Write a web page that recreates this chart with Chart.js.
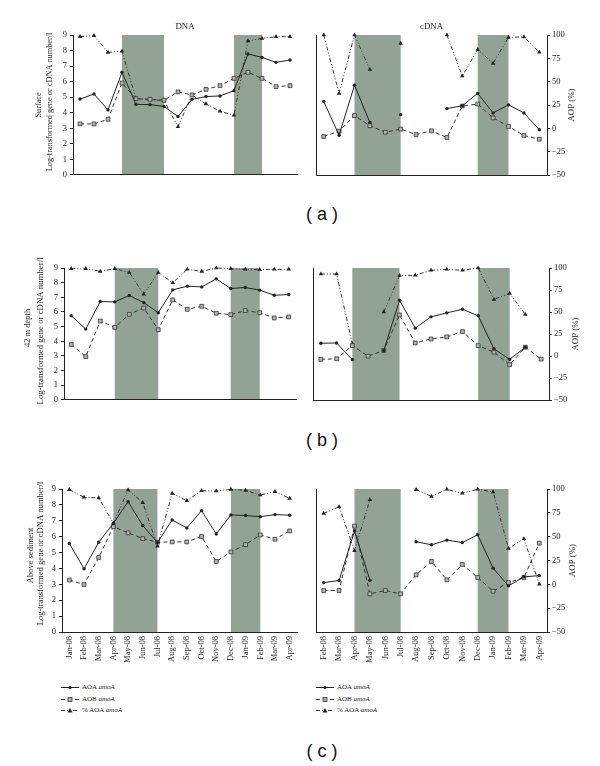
<!DOCTYPE html>
<html>
<head>
<meta charset="utf-8">
<script src="https://cdn.jsdelivr.net/npm/chart.js@4.4.1/dist/chart.umd.min.js"></script>
<style>
  html, body { margin:0; padding:0; background:#fff; }
  body { width:600px; height:766px; position:relative; overflow:hidden; font-family:"Liberation Serif","Times New Roman",serif; color:#222; }
  canvas { position:absolute; }
  .cap { position:absolute; width:100px; text-align:center; font-family:"Liberation Sans",Arial,sans-serif; font-size:18px; color:#111; white-space:pre; line-height:20px; }
  .leg { position:absolute; font-size:7px; line-height:11.5px; color:#222; }
  .leg .row { display:flex; align-items:center; height:11.5px; }
  .leg svg { margin-right:3px; }
</style>
</head>
<body>
<div class="cap" style="left:272px;top:204px">( a )</div>
<div class="cap" style="left:272px;top:430px">( b )</div>
<div class="cap" style="left:272px;top:741px">( c )</div>

<div class="leg" style="left:61px;top:682px">
  <div class="row"><svg width="18" height="9"><line x1="0" y1="4.5" x2="18" y2="4.5" stroke="#222" stroke-width="1"/><circle cx="9" cy="4.5" r="1.6" fill="#222"/></svg><span>AOA <i>amoA</i></span></div>
  <div class="row"><svg width="18" height="9"><line x1="0" y1="4.5" x2="18" y2="4.5" stroke="#333" stroke-width="1" stroke-dasharray="4,3"/><rect x="7" y="2.5" width="4" height="4" fill="#b0b0b0" stroke="#333" stroke-width="0.8"/></svg><span>AOB <i>amoA</i></span></div>
  <div class="row"><svg width="18" height="9"><line x1="0" y1="4.5" x2="18" y2="4.5" stroke="#333" stroke-width="1" stroke-dasharray="4,2,1,2,1,2"/><polygon points="9,2 11.5,6.5 6.5,6.5" fill="#222"/></svg><span>% AOA <i>amoA</i></span></div>
</div>
<div class="leg" style="left:316px;top:682px">
  <div class="row"><svg width="18" height="9"><line x1="0" y1="4.5" x2="18" y2="4.5" stroke="#222" stroke-width="1"/><circle cx="9" cy="4.5" r="1.6" fill="#222"/></svg><span>AOA <i>amoA</i></span></div>
  <div class="row"><svg width="18" height="9"><line x1="0" y1="4.5" x2="18" y2="4.5" stroke="#333" stroke-width="1" stroke-dasharray="4,3"/><rect x="7" y="2.5" width="4" height="4" fill="#b0b0b0" stroke="#333" stroke-width="0.8"/></svg><span>AOB <i>amoA</i></span></div>
  <div class="row"><svg width="18" height="9"><line x1="0" y1="4.5" x2="18" y2="4.5" stroke="#333" stroke-width="1" stroke-dasharray="4,2,1,2,1,2"/><polygon points="9,2 11.5,6.5 6.5,6.5" fill="#222"/></svg><span>% AOA <i>amoA</i></span></div>
</div>

<script>
// ---------- DATA ----------
const monthsDNA  = ['Jan-08','Feb-08','Mar-08','Apr-08','May-08','Jun-08','Jul-08','Aug-08','Sep-08','Oct-08','Nov-08','Dec-08','Jan-09','Feb-09','Mar-09','Apr-09'];
const monthsCDNA = ['Feb-08','Mar-08','Apr-08','May-08','Jun-08','Jul-08','Aug-08','Sep-08','Oct-08','Nov-08','Dec-08','Jan-09','Feb-09','Mar-09','Apr-09'];

const geneTicks = [0,1,2,3,4,5,6,7,8,9];
const aopTicks  = [-50,-25,0,25,50,75,100];

// (a) Surface
const surfDnaAOA  = [4.88, 5.20, 4.18, 6.60, 4.54, 4.52, 4.41, 3.75, 4.86, 5.04, 5.08, 5.42, 7.78, 7.56, 7.24, 7.39];
const surfDnaAOB  = [3.28, 3.28, 3.58, 5.91, 4.90, 4.86, 4.80, 5.34, 5.14, 5.50, 5.74, 6.21, 6.60, 6.21, 5.68, 5.74];
const surfDnaPct  = [98.2, 99.3, 81.4, 82.5, 31.8, 30.7, 29.6, 1.8, 35.7, 26.1, 18.2, 13.9, 93.6, 96.4, 98.2, 98.2];
const surfCdnaAOA = [4.73, 2.56, 5.77, 3.38, null, 3.88, null, null, 4.27, 4.45, 5.25, 3.99, 4.51, 3.99, 2.91];
const surfCdnaAOB = [2.47, 2.82, 3.82, 3.17, 2.75, 2.95, 2.60, 2.84, 2.41, 4.43, 4.56, 3.67, 3.12, 2.54, 2.30];
const surfCdnaPct = [100, 37.5, 100, 63, null, 91, null, null, 100, 56, 84.4, 69.6, 97.5, 98, 81.6];

// (b) 42 m depth
const d42DnaAOA  = [5.75, 4.83, 6.71, 6.69, 7.12, 6.64, 5.95, 7.51, 7.76, 7.71, 8.26, 7.60, 7.67, 7.49, 7.14, 7.19];
const d42DnaAOB  = [3.78, 2.95, 5.38, 4.95, 5.84, 6.27, 4.79, 6.82, 6.18, 6.39, 5.91, 5.82, 6.09, 5.95, 5.59, 5.66];
const d42DnaPct  = [99.2, 99.2, 96.2, 99.2, 95, 70.2, 95, 83.2, 98.5, 96.2, 100, 99.2, 98.5, 98.1, 98.5, 98.5];
const d42CdnaAOA = [3.87, 3.89, 2.75, null, 3.38, 6.80, 4.90, 5.67, 5.94, 6.19, 5.74, 3.49, 2.77, 3.60, null];
const d42CdnaAOB = [2.77, 2.81, 3.71, 2.99, 3.38, 5.80, 3.89, 4.16, 4.30, 4.66, 3.71, 3.26, 2.41, 3.60, 2.79];
const d42CdnaPct = [93.2, 93.2, 13.8, null, 50.1, 91.4, 91.8, 97.4, 98.5, 97.4, 100, 64.4, 71.1, 47.1, null];

// (c) Above sediment
const sedDnaAOA  = [5.57, 3.98, 5.65, 6.84, 8.20, 6.70, 5.63, 7.05, 6.55, 7.64, 6.17, 7.37, 7.33, 7.26, 7.39, 7.35];
const sedDnaAOB  = [3.27, 2.99, 4.69, 6.63, 6.24, 5.88, 5.65, 5.67, 5.67, 6.01, 4.44, 5.04, 5.50, 6.11, 5.84, 6.36];
const sedDnaPct  = [99.3, 91.3, 90.6, 64, 99, 85.7, 40, 95.4, 87.8, 98.2, 97.9, 99.6, 98.6, 93.7, 97.2, 90.2];
const sedCdnaAOA = [3.11, 3.24, 6.35, 3.26, null, null, 5.68, 5.49, 5.78, 5.63, 6.12, 4.02, 2.90, 3.47, 3.55];
const sedCdnaAOB = [2.61, 2.61, 6.67, 2.40, 2.61, 2.40, 3.60, 4.44, 3.28, 4.25, 3.43, 2.57, 3.11, 3.43, 5.59];
const sedCdnaPct = [74.4, 81.4, 35.2, 88.8, null, null, 99.3, 92.3, 99.7, 95.5, 99.7, 96.9, 37.6, 47.8, 0.1];

// shaded periods (category index ranges)
const shadeDNA  = [[3, 6], [11, 13]];
const shadeCDNA = [[2, 5], [10, 12]];

const seriesNames = ['AOA amoA', 'AOB amoA', '% AOA amoA'];

// ---------- STYLE ----------
const SERIF = '"Liberation Serif","Times New Roman",serif';
const INK = '#222';
const SHADE = '#92a395';

const shadePlugin = {
  id: 'shade',
  beforeDraw(chart, args, opts) {
    const { ctx, chartArea, scales: { x } } = chart;
    ctx.save();
    ctx.fillStyle = opts.color;
    for (const [a, b] of opts.spans) {
      const x0 = x.getPixelForValue(a), x1 = x.getPixelForValue(b);
      ctx.fillRect(x0, chartArea.top, x1 - x0, chartArea.bottom - chartArea.top);
    }
    ctx.restore();
  }
};

const textPlugin = {
  id: 'txt',
  afterDraw(chart, args, opts) {
    const { ctx, chartArea } = chart;
    const cy = (chartArea.top + chartArea.bottom) / 2;
    ctx.save();
    ctx.fillStyle = INK;
    ctx.textAlign = 'center';
    ctx.textBaseline = 'middle';
    for (const it of (opts.items || [])) {
      ctx.save();
      ctx.font = it.size + 'px ' + SERIF;
      let x, y;
      if (it.anchor === 'top') { x = (chartArea.left + chartArea.right) / 2; y = chartArea.top + it.dy; }
      else if (it.anchor === 'left') { x = chartArea.left + it.dx; y = cy + (it.dy || 0); }
      else { x = chartArea.right + it.dx; y = cy + (it.dy || 0); }
      ctx.translate(x, y);
      if (it.rot) ctx.rotate(it.rot);
      ctx.fillText(it.text, 0, 0);
      ctx.restore();
    }
    ctx.restore();
  }
};

function datasets(aoa, aob, pct) {
  return [
    { label: seriesNames[0], data: aoa, yAxisID: 'y', borderColor: INK, backgroundColor: INK, borderWidth: 1,
      pointStyle: 'circle', pointRadius: 1.7, pointBackgroundColor: INK, pointBorderColor: INK, pointBorderWidth: 0,
      spanGaps: false, tension: 0, clip: 8 },
    { label: seriesNames[1], data: aob, yAxisID: 'y', borderColor: '#333', backgroundColor: '#b0b0b0', borderWidth: 1, borderDash: [4, 3],
      pointStyle: 'rect', pointRadius: 2.7, pointBackgroundColor: '#b5b5b5', pointBorderColor: '#333', pointBorderWidth: 0.8,
      spanGaps: false, tension: 0, clip: 8 },
    { label: seriesNames[2], data: pct, yAxisID: 'y2', borderColor: '#333', backgroundColor: INK, borderWidth: 1, borderDash: [4, 2, 1, 2, 1, 2],
      pointStyle: 'triangle', pointRadius: 2.6, pointBackgroundColor: INK, pointBorderColor: INK, pointBorderWidth: 0,
      spanGaps: false, tension: 0, clip: 8 }
  ];
}

function makePanel(cfg) {
  const cv = document.createElement('canvas');
  cv.width = cfg.w; cv.height = cfg.h;
  cv.style.left = cfg.x + 'px'; cv.style.top = cfg.y + 'px';
  cv.style.width = cfg.w + 'px'; cv.style.height = cfg.h + 'px';
  document.body.appendChild(cv);
  const isLeft = cfg.side === 'left';
  const tickFont = { family: SERIF, size: 8.5 };

  const yScale = isLeft ? {
    position: 'left', min: geneTicks[0], max: geneTicks[geneTicks.length - 1],
    afterBuildTicks: s => { s.ticks = geneTicks.map(v => ({ value: v })); },
    ticks: { font: tickFont, color: INK, padding: 3 },
    grid: { display: true, drawOnChartArea: false, drawTicks: true, tickLength: 3, color: INK },
    border: { display: true, color: INK, width: 1 },
    afterFit: s => { s.width = cfg.leftW; }
  } : {
    position: 'left', min: geneTicks[0], max: geneTicks[geneTicks.length - 1],
    ticks: { display: false },
    grid: { display: false, drawTicks: false },
    border: { display: true, color: INK, width: 1 },
    afterFit: s => { s.width = cfg.leftW; }
  };

  const y2Scale = isLeft ? {
    display: false, position: 'right', min: aopTicks[0], max: aopTicks[aopTicks.length - 1]
  } : {
    position: 'right', min: aopTicks[0], max: aopTicks[aopTicks.length - 1],
    afterBuildTicks: s => { s.ticks = aopTicks.map(v => ({ value: v })); },
    ticks: { font: tickFont, color: INK, padding: 2, callback: v => String(v).replace('-', '\u2212') },
    grid: { display: true, drawOnChartArea: false, drawTicks: true, tickLength: 3, color: INK },
    border: { display: true, color: INK, width: 1 },
    afterFit: s => { s.width = cfg.rightW; }
  };

  new Chart(cv, {
    type: 'line',
    data: { labels: cfg.labels, datasets: datasets(cfg.aoa, cfg.aob, cfg.pct) },
    plugins: [shadePlugin, textPlugin],
    options: {
      responsive: false, animation: false, devicePixelRatio: 1,
      layout: { padding: { top: cfg.padTop, right: cfg.padRight || 0, left: 0, bottom: 0 } },
      plugins: {
        legend: { display: false }, tooltip: { enabled: false },
        shade: { spans: cfg.shade, color: SHADE },
        txt: { items: cfg.texts }
      },
      scales: {
        x: {
          type: 'category', offset: true,
          grid: { display: false, drawTicks: false },
          border: { display: true, color: INK, width: 1 },
          ticks: { display: cfg.showX, autoSkip: false, minRotation: 90, maxRotation: 90, font: { family: SERIF, size: 8.5 }, color: INK, padding: 4 },
          afterFit: s => { s.height = cfg.bottomH; }
        },
        y: yScale,
        y2: y2Scale
      }
    }
  });
}

const R = -Math.PI / 2;
const logTitle = 'Log-transformed gene or cDNA number/l';

// (a)
makePanel({ side: 'left', x: 0, y: 20, w: 305, h: 163, leftW: 73, padTop: 15, padRight: 8, bottomH: 8, showX: false,
  labels: monthsDNA, aoa: surfDnaAOA, aob: surfDnaAOB, pct: surfDnaPct, shade: shadeDNA,
  texts: [ { anchor: 'top', text: 'DNA', size: 8.8, dy: -8 },
           { anchor: 'left', text: 'Surface', size: 8.3, dx: -34, dy: 0, rot: R },
           { anchor: 'left', text: logTitle, size: 8.3, dx: -23, dy: -3, rot: R } ] });
makePanel({ side: 'right', x: 305, y: 20, w: 295, h: 163, leftW: 11, rightW: 53, padTop: 15, bottomH: 8, showX: false,
  labels: monthsCDNA, aoa: surfCdnaAOA, aob: surfCdnaAOB, pct: surfCdnaPct, shade: shadeCDNA,
  texts: [ { anchor: 'top', text: 'cDNA', size: 8.8, dy: -8 },
           { anchor: 'right', text: 'AOP (%)', size: 8.8, dx: 25, dy: 0, rot: R } ] });

// (b)
makePanel({ side: 'left', x: 0, y: 250, w: 305, h: 158, leftW: 64, padTop: 18, padRight: 9, bottomH: 8, showX: false,
  labels: monthsDNA, aoa: d42DnaAOA, aob: d42DnaAOB, pct: d42DnaPct, shade: shadeDNA,
  texts: [ { anchor: 'left', text: '42 m depth', size: 8.5, dx: -36, dy: -6, rot: R },
           { anchor: 'left', text: logTitle, size: 8.8, dx: -23.5, dy: -3, rot: R } ] });
makePanel({ side: 'right', x: 305, y: 250, w: 295, h: 158, leftW: 8, rightW: 51, padTop: 18, bottomH: 8, showX: false,
  labels: monthsCDNA, aoa: d42CdnaAOA, aob: d42CdnaAOB, pct: d42CdnaPct, shade: shadeCDNA,
  texts: [ { anchor: 'right', text: 'AOP (%)', size: 8.8, dx: 27, dy: 0, rot: R } ] });

// (c)
makePanel({ side: 'left', x: 0, y: 470, w: 305, h: 210, leftW: 62, padTop: 19, padRight: 8, bottomH: 48, showX: true,
  labels: monthsDNA, aoa: sedDnaAOA, aob: sedDnaAOB, pct: sedDnaPct, shade: shadeDNA,
  texts: [ { anchor: 'left', text: 'Above sediment', size: 8.5, dx: -31, dy: -5, rot: R },
           { anchor: 'left', text: logTitle, size: 8.6, dx: -21, dy: -7, rot: R } ] });
makePanel({ side: 'right', x: 305, y: 470, w: 295, h: 210, leftW: 11, rightW: 53, padTop: 19, bottomH: 48, showX: true,
  labels: monthsCDNA, aoa: sedCdnaAOA, aob: sedCdnaAOB, pct: sedCdnaPct, shade: shadeCDNA,
  texts: [ { anchor: 'right', text: 'AOP (%)', size: 8.8, dx: 26, dy: 0, rot: R } ] });
</script>
</body>
</html>
